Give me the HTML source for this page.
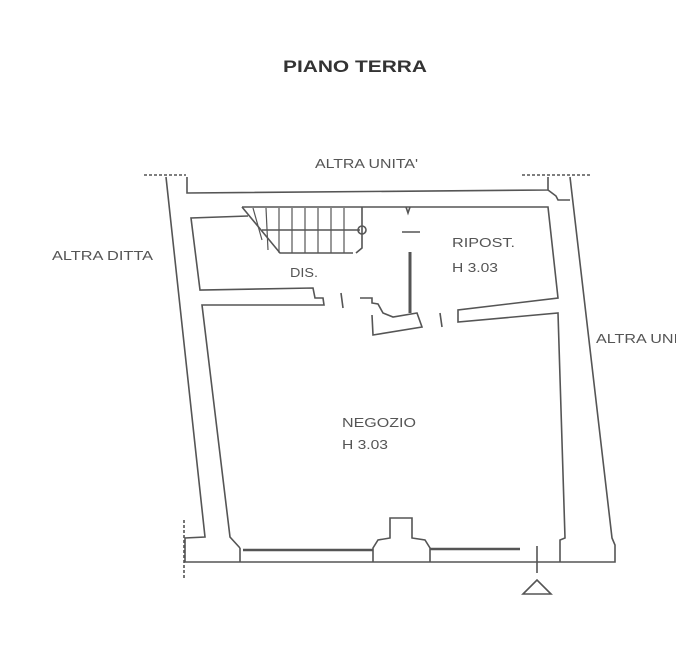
<!DOCTYPE html>
<html><head><style>
html,body{margin:0;padding:0;background:#fff;}
svg{display:block}
text{font-family:"Liberation Sans",sans-serif;fill:#555;}
</style></head><body>
<svg width="676" height="652" viewBox="0 0 676 652" xmlns="http://www.w3.org/2000/svg">
<g fill="none" stroke="#555" stroke-width="1.6">
<line x1="144" y1="175" x2="186" y2="175" stroke-dasharray="3,2"/>
<line x1="522" y1="175" x2="590" y2="175" stroke-dasharray="3,2"/>
<line x1="184" y1="520" x2="184" y2="580" stroke-dasharray="3,2"/>
<polyline points="166,177 205,537 185,538 185,562 615,562 615,545 612,538 570,177"/>
<polyline points="187,177 187,193 548,190 548,177"/>
<polyline points="548,190 556,196 558,200 570,200"/>
<polyline points="242,207 548,207 558,298 458,310 458,322 558,313 565,538 560,540 560,548"/>
<polyline points="248,216 191,218 200,290 313,288 315,298 323,298 324,305 202,305 230,537 240,548"/>
<polyline points="360,298 372,298 372,303 378,304 383,313 393,317 417,313 422,327 373,335 372,315"/>
<line x1="410" y1="252" x2="410" y2="313" stroke-width="3"/>
<line x1="402" y1="232" x2="420" y2="232"/>
<polyline points="406,207 408,213 410,207"/>
<line x1="341" y1="293" x2="343" y2="308"/>
<line x1="440" y1="313" x2="442" y2="327"/>
<polyline points="242,207 280,253 353,253"/>
<polyline points="362,207 362,248 356,253"/>
<line x1="262" y1="230" x2="360" y2="230"/>
<circle cx="362" cy="230" r="4"/>
<g stroke-width="1.2">
<line x1="253" y1="208" x2="262" y2="240"/>
<line x1="266" y1="208" x2="268" y2="250"/>
<line x1="279" y1="208" x2="279" y2="253"/>
<line x1="292" y1="208" x2="292" y2="253"/>
<line x1="305" y1="208" x2="305" y2="253"/>
<line x1="318" y1="208" x2="318" y2="253"/>
<line x1="331" y1="208" x2="331" y2="253"/>
<line x1="344" y1="208" x2="344" y2="253"/>
</g>
<line x1="243" y1="550" x2="373" y2="550" stroke-width="2.5"/>
<polyline points="373,562 373,548 378,540 390,538 390,518 412,518 412,538 425,540 430,548 430,562"/>
<line x1="430" y1="549" x2="520" y2="549" stroke-width="2.5"/>
<line x1="240" y1="548" x2="240" y2="562"/>
<line x1="560" y1="548" x2="560" y2="562"/>
<line x1="537" y1="546" x2="537" y2="573"/>
<polygon points="523,594 551,594 537,580"/>
</g>
<text x="283" y="72" font-size="17" font-weight="bold" textLength="144" lengthAdjust="spacingAndGlyphs" style="fill:#333">PIANO TERRA</text>
<text x="315" y="168" font-size="13" textLength="103" lengthAdjust="spacingAndGlyphs">ALTRA UNITA'</text>
<text x="52" y="260" font-size="13" textLength="101" lengthAdjust="spacingAndGlyphs">ALTRA DITTA</text>
<text x="596" y="343" font-size="13" textLength="82" lengthAdjust="spacingAndGlyphs">ALTRA UNI</text>
<text x="290" y="277" font-size="13" textLength="28" lengthAdjust="spacingAndGlyphs">DIS.</text>
<text x="452" y="247" font-size="13" textLength="63" lengthAdjust="spacingAndGlyphs">RIPOST.</text>
<text x="452" y="272" font-size="13" textLength="46" lengthAdjust="spacingAndGlyphs">H 3.03</text>
<text x="342" y="427" font-size="13" textLength="74" lengthAdjust="spacingAndGlyphs">NEGOZIO</text>
<text x="342" y="449" font-size="13" textLength="46" lengthAdjust="spacingAndGlyphs">H 3.03</text>
</svg>
</body></html>
